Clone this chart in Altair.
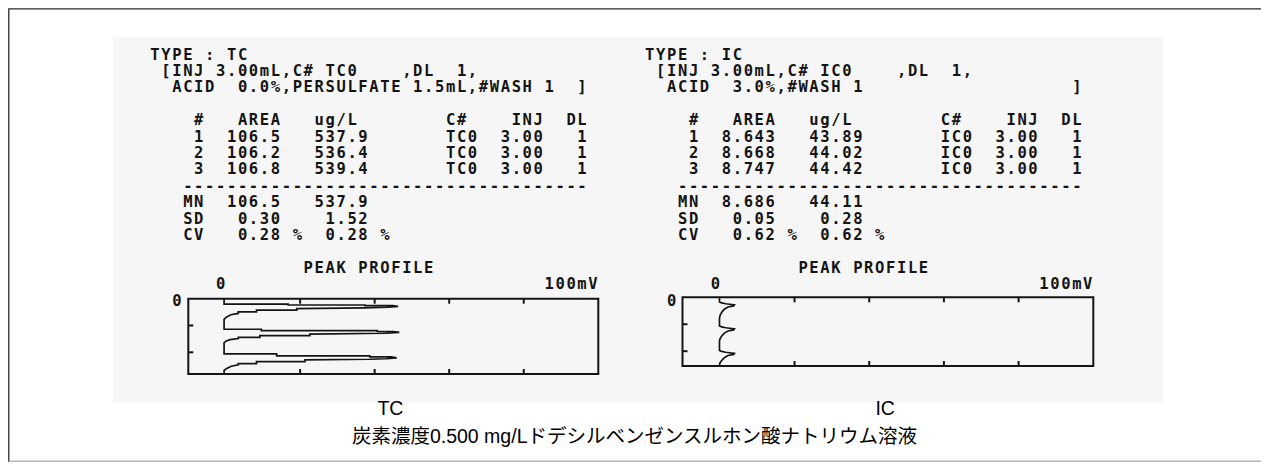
import altair as alt
import pandas as pd

# ---------------- data ----------------
TC_LINES = [
    "TYPE : TC",
    " [INJ 3.00mL,C# TC0    ,DL  1,",
    "  ACID  0.0%,PERSULFATE 1.5mL,#WASH 1  ]",
    "",
    "    #   AREA   ug/L        C#    INJ  DL",
    "    1  106.5   537.9       TC0  3.00   1",
    "    2  106.2   536.4       TC0  3.00   1",
    "    3  106.8   539.4       TC0  3.00   1",
    "   -------------------------------------",
    "   MN  106.5   537.9",
    "   SD   0.30    1.52",
    "   CV   0.28 %  0.28 %",
    "",
    "              PEAK PROFILE",
    "      0                             100mV",
    "  0",
]
IC_LINES = [
    "TYPE : IC",
    " [INJ 3.00mL,C# IC0    ,DL  1,",
    "  ACID  3.0%,#WASH 1                   ]",
    "",
    "    #   AREA   ug/L        C#    INJ  DL",
    "    1  8.643   43.89       IC0  3.00   1",
    "    2  8.668   44.02       IC0  3.00   1",
    "    3  8.747   44.42       IC0  3.00   1",
    "   -------------------------------------",
    "   MN  8.686   44.11",
    "   SD   0.05    0.28",
    "   CV   0.62 %  0.62 %",
    "",
    "              PEAK PROFILE",
    "      0                             100mV",
    "  0",
]
PANEL_LABELS = ["TC", "IC"]
CAPTION = "炭素濃度0.500 mg/Lドデシルベンゼンスルホン酸ナトリウム溶液"

# peak profile axes: signal (mV) horizontally, time downward
MV_MIN, MV_MAX = -10, 100
MV_TICKS = [20, 40, 60, 80]
T_TICKS = [1, 2]
TC_TMAX = 2.81
IC_TMAX = 2.55

TC_MV = [-0.4, -0.4, 16.8, 16.8, 37.4, 37.4, 45.0, 46.3, 43.5, 37.4, 19.1, 19.1, 8.3, 8.3, 3.4, 3.4, 1.4, 0.3, -0.4,
         -0.4, 9.6, 9.6, 40.7, 40.7, 45.0, 46.6, 43.0, 22.6, 22.6, 9.2, 9.2, 3.4, 3.4, 1.2, 0.2, -0.4,
         -0.4, 13.7, 13.7, 38.7, 38.7, 44.5, 45.9, 43.0, 38.7, 21.3, 21.3, 8.3, 8.3, 3.4, 3.4, 1.5, 0.3, -0.4, -0.4]
TC_T = [0.00, 0.20, 0.20, 0.235, 0.235, 0.26, 0.26, 0.29, 0.32, 0.34, 0.37, 0.43, 0.43, 0.49, 0.49, 0.55, 0.60, 0.68, 0.77,
        1.14, 1.14, 1.19, 1.19, 1.22, 1.23, 1.26, 1.29, 1.32, 1.38, 1.38, 1.44, 1.44, 1.49, 1.53, 1.58, 1.64,
        2.06, 2.06, 2.13, 2.13, 2.17, 2.17, 2.21, 2.24, 2.26, 2.28, 2.35, 2.35, 2.42, 2.42, 2.47, 2.52, 2.60, 2.68, 2.81]

IC_MV = [-0.1, -0.1, 0.5, 1.6, 3.9, 3.7, 2.2, 1.2, 0.6, 0.1, -0.1,
         -0.1, 0.5, 1.6, 3.9, 3.7, 2.2, 1.2, 0.6, 0.1, -0.1,
         -0.1, 0.5, 1.6, 3.9, 3.7, 2.2, 1.2, 0.6, 0.1, -0.1, -0.1]
IC_T = [0.00, 0.17, 0.21, 0.24, 0.28, 0.32, 0.36, 0.44, 0.54, 0.66, 0.76,
        1.06, 1.10, 1.13, 1.17, 1.21, 1.25, 1.33, 1.42, 1.52, 1.62,
        1.97, 2.01, 2.04, 2.08, 2.12, 2.16, 2.24, 2.33, 2.42, 2.50, 2.55]

# ---------------- layout / style ----------------
W, H = 1253, 454
PITCH = 10.95        # printer column pitch (px)
LINE = 16.4          # printer line pitch (px)
NCOL, NLINE = 41, 24
TEXT_Y0 = 46.5
BLOCK_X0 = {"TC": 141.5, "IC": 636.3}
PROFILE_BOX = {  # pixel range of each peak-profile frame
    "TC": ([180.3, 590.3], [290.7, 366.0]),
    "IC": ([674.5, 1085.3], [289.3, 358.0]),
}
INK = "#141414"
MONO = "DejaVu Sans Mono"


def char_table(lines):
    rows = []
    for li, s in enumerate(lines):
        for ci, ch in enumerate(s):
            if ch != " ":
                rows.append({"col": ci + 0.5, "line": li, "ch": ch})
    return pd.DataFrame(rows)


def text_block(lines, label, key):
    x0 = BLOCK_X0[key]
    xs = alt.Scale(domain=[0, NCOL], range=[x0, x0 + NCOL * PITCH], nice=False, zero=False)
    ys = alt.Scale(domain=[0, NLINE], range=[TEXT_Y0, TEXT_Y0 + NLINE * LINE], nice=False, zero=False)
    chars = alt.Chart(char_table(lines)).mark_text(
        font=MONO, fontWeight="bold", fontSize=15.5, align="center", baseline="middle", color=INK
    ).encode(
        x=alt.X("col:Q", scale=xs, axis=None),
        y=alt.Y("line:Q", scale=ys, axis=None),
        text="ch:N",
    )
    lab = alt.Chart(pd.DataFrame({"col": [22], "line": [22], "t": [label]})).mark_text(
        font="Liberation Sans", fontSize=19.5, align="center", baseline="alphabetic", color="#000"
    ).encode(
        x=alt.X("col:Q", scale=xs, axis=None),
        y=alt.Y("line:Q", scale=ys, axis=None),
        text="t:N",
    )
    return alt.layer(chars, lab)


def profile(key, mv, t, tmax):
    xr, yr = PROFILE_BOX[key]
    xs = alt.Scale(domain=[MV_MIN, MV_MAX], range=xr, nice=False, zero=False)
    ys = alt.Scale(domain=[0, tmax], range=yr, nice=False, zero=False)
    X = lambda f: alt.X(f, scale=xs, axis=None)
    Y = lambda f: alt.Y(f, scale=ys, axis=None)

    frame = alt.Chart(pd.DataFrame({"a": [MV_MIN], "b": [MV_MAX], "c": [0], "d": [tmax]})).mark_rect(
        fill="transparent", stroke=INK, strokeWidth=2
    ).encode(x=X("a:Q"), x2="b:Q", y=Y("c:Q"), y2="d:Q")

    top = alt.Chart(pd.DataFrame({"mv": MV_TICKS, "t": [0] * len(MV_TICKS)})).mark_rule(
        color=INK, strokeWidth=2, y2Offset=5
    ).encode(x=X("mv:Q"), y=Y("t:Q"), y2="t:Q")
    bot = alt.Chart(pd.DataFrame({"mv": MV_TICKS, "t": [tmax] * len(MV_TICKS)})).mark_rule(
        color=INK, strokeWidth=2, y2Offset=-5
    ).encode(x=X("mv:Q"), y=Y("t:Q"), y2="t:Q")
    left = alt.Chart(pd.DataFrame({"mv": [MV_MIN] * len(T_TICKS), "t": T_TICKS})).mark_rule(
        color=INK, strokeWidth=2, x2Offset=5
    ).encode(x=X("mv:Q"), x2="mv:Q", y=Y("t:Q"))

    trace = alt.Chart(pd.DataFrame({"mv": mv, "t": t, "i": range(len(mv))})).mark_line(
        color=INK, strokeWidth=1.7, strokeJoin="miter"
    ).encode(x=X("mv:Q"), y=Y("t:Q"), order="i:Q")
    return alt.layer(frame, top, bot, left, trace)


# canvas (pixel) layer: page frame, scan background, caption
cx = alt.Scale(domain=[0, W], range=[0, W], nice=False, zero=False)
cy = alt.Scale(domain=[0, H], range=[0, H], nice=False, zero=False)
CX = lambda f: alt.X(f, scale=cx, axis=None)
CY = lambda f: alt.Y(f, scale=cy, axis=None)

scan_bg = alt.Chart(pd.DataFrame({"a": [105], "b": [1155], "c": [28.7], "d": [394.7]})).mark_rect(
    color="#f6f6f6"
).encode(x=CX("a:Q"), x2="b:Q", y=CY("c:Q"), y2="d:Q")

# page frame as open polylines: top + left in dark, bottom in light grey (no right side)
frame_dark = alt.Chart(pd.DataFrame({"px": [W + 30, 0.8, 0.8], "py": [0.8, 0.8, H], "i": [0, 1, 2]})).mark_line(
    color="#2a2a2a", strokeWidth=1.3, strokeJoin="miter"
).encode(x=CX("px:Q"), y=CY("py:Q"), order="i:Q")
frame_light = alt.Chart(pd.DataFrame({"px": [0.8, W + 30], "py": [H - 0.8, H - 0.8], "i": [0, 1]})).mark_line(
    color="#b8b8b8", strokeWidth=1.4
).encode(x=CX("px:Q"), y=CY("py:Q"), order="i:Q")

caption = alt.Chart(pd.DataFrame({"x": [W / 2], "y": [435], "t": [CAPTION]})).mark_text(
    font="Liberation Sans, Noto Sans CJK JP", fontSize=19.5, align="center", baseline="alphabetic", color="#000"
).encode(x=CX("x:Q"), y=CY("y:Q"), text="t:N")

canvas = alt.layer(scan_bg, frame_dark, frame_light, caption)

chart = alt.layer(
    canvas,
    text_block(TC_LINES, PANEL_LABELS[0], "TC"),
    text_block(IC_LINES, PANEL_LABELS[1], "IC"),
    profile("TC", TC_MV, TC_T, TC_TMAX),
    profile("IC", IC_MV, IC_T, IC_TMAX),
).resolve_scale(
    x="independent", y="independent"
).properties(
    width=W, height=H, padding=0, autosize="none", background="white",
).configure_view(stroke="white", strokeWidth=0, strokeOpacity=0)

chart.save("out.html", embed_options={"renderer": "svg", "actions": False})
